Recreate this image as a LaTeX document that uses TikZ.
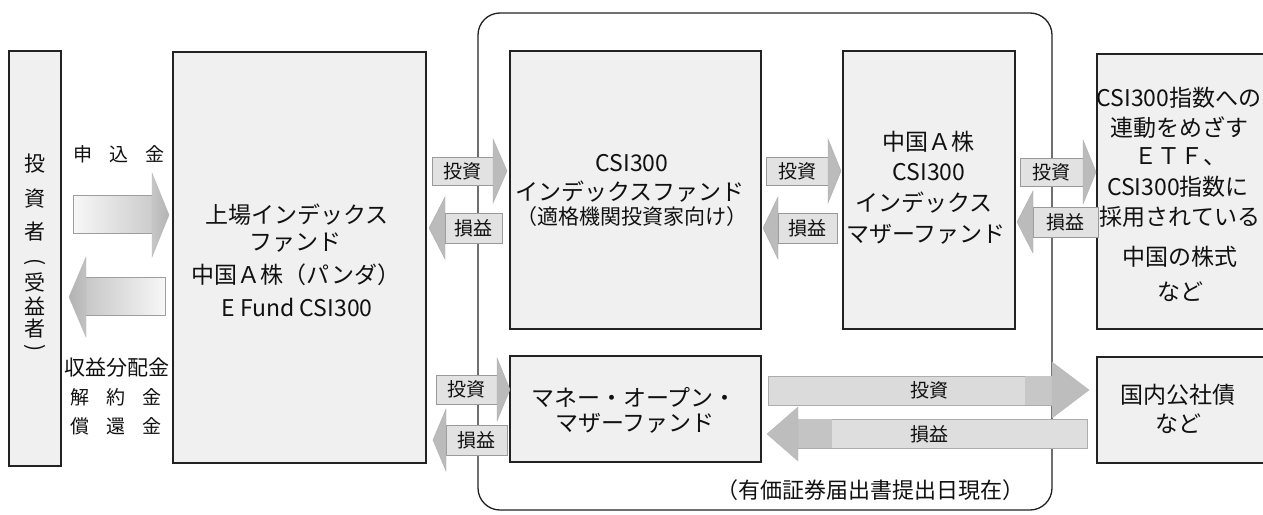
\documentclass[tikz,border=0pt]{standalone}
\usepackage{fontspec}
\setmainfont{Noto Sans CJK JP}
\definecolor{boxfill}{HTML}{F0F0F0}
\definecolor{boxline}{HTML}{222222}
\definecolor{txtc}{HTML}{111111}
\definecolor{arrbody}{HTML}{E2E2E2}
\definecolor{arrhead}{HTML}{BBBBBB}
\definecolor{arredge}{HTML}{9A9A9A}
\tikzset{
  box/.style={draw=boxline, fill=boxfill, line width=1.3pt, inner sep=0pt, outer sep=0pt},
  t/.style={inner sep=0pt, text=txtc, font=\fontsize{23}{26}\selectfont},
  tm/.style={inner sep=0pt, text=txtc, font=\fontsize{21}{24}\selectfont},
  ts/.style={inner sep=0pt, text=txtc, font=\fontsize{19}{22}\selectfont},
  abody/.style={fill=arrbody, draw=arredge, line width=0.8pt},
  ahead/.style={fill=arrhead, draw=arrhead!92!black, line width=0.4pt},
}
\newcommand\ArrR[7]{%
  \path[abody] (#1,#4) rectangle (#2,#5);
  \path[ahead] (#2,#6) -- (#3,{(#6+#7)/2}) -- (#2,#7) -- cycle;}
\newcommand\ArrL[7]{%
  \path[abody] (#2,#4) rectangle (#3,#5);
  \path[ahead] (#2,#6) -- (#1,{(#6+#7)/2}) -- (#2,#7) -- cycle;}
\begin{document}
\begin{tikzpicture}[x=1pt,y=-1pt]
\useasboundingbox (0,0) rectangle (1263,514);
\fill[white] (0,0) rectangle (1263,514);
\begin{scope}
\clip (0,0) rectangle (1263,514);

% container
\node[draw=boxline, line width=1.3pt, rounded corners=22pt, minimum width=574pt, minimum height=497pt, inner sep=0pt] (cont) at (765,261.5) {};

% boxes
\node[box, minimum width=52pt, minimum height=415pt] (inv) at (35,258.5) {};
\node[box, minimum width=253pt, minimum height=411pt] (fund) at (299.5,257.5) {};
\node[box, minimum width=251pt, minimum height=278pt] (csi) at (635.5,190) {};
\node[box, minimum width=172pt, minimum height=278pt] (mother) at (929,190) {};
\node[box, minimum width=178pt, minimum height=275pt] (etf) at (1186,191.5) {};
\node[box, minimum width=251pt, minimum height=106pt] (money) at (635.5,409) {};
\node[box, minimum width=178pt, minimum height=106pt] (bond) at (1186,410) {};

% investor vertical text
\node[tm] (v1) at (35,164) {投};
\node[tm] (v2) at (35,199) {資};
\node[tm] (v3) at (35,232) {者};
\node[tm, rotate=-90] (v4) at (35,262) {(};
\node[tm] (v5) at (35,282) {受};
\node[tm] (v6) at (35,306) {益};
\node[tm] (v7) at (35,329) {者};
\node[tm, rotate=-90] (v8) at (35,348) {)};

% left big arrows
\path[left color=black!3, right color=black!20, draw=black!38, line width=0.6pt] (73,195) rectangle (153,233);
\path[left color=black!22, right color=black!30, draw=black!28, line width=0.4pt] (152,173) -- (169,215) -- (152,257) -- cycle;
\path[left color=black!22, right color=black!3, draw=black!38, line width=0.6pt] (85,277) rectangle (165,315);
\path[left color=black!30, right color=black!24, draw=black!28, line width=0.4pt] (86,257) -- (69,297) -- (86,337) -- cycle;

\node[ts] (in) at (119,154) {申\hspace{17pt}込\hspace{17pt}金};
\node[tm] (out1) at (116.5,368) {収益分配金};
\node[ts] (out2) at (116,397) {解\hspace{17pt}約\hspace{17pt}金};
\node[ts] (out3) at (116,426) {償\hspace{17pt}還\hspace{17pt}金};

% main fund text
\node[t] (f1) at (297,215) {上場インデックス};
\node[t] (f2) at (295,243) {ファンド};
\node[t] (f3) at (296,275) {中国Ａ株（パンダ）};
\node[t] (f4) at (297,307) {E Fund CSI300};

% CSI index fund text
\node[t] (c1) at (632,163) {CSI300};
\node[t] (c2) at (630,192) {インデックスファンド};
\node[tm] (c3) at (632,217) {（適格機関投資家向け）};

% mother fund text
\node[t] (m1) at (928,142) {中国Ａ株};
\node[t] (m2) at (929,172) {CSI300};
\node[t] (m3) at (924,203) {インデックス};
\node[t] (m4) at (926,234) {マザーファンド};

% ETF box text
\node[t] (e1) at (1179,98) {CSI300指数への};
\node[t] (e2) at (1179,128) {連動をめざす};
\node[t] (e3) at (1180,157) {ＥＴＦ、};
\node[t] (e4) at (1178,187) {CSI300指数に};
\node[t] (e5) at (1180,217) {採用されている};
\node[t] (e6) at (1180,257) {中国の株式};
\node[t] (e7) at (1180,292) {など};

% money fund text
\node[t] (mo1) at (634,397) {マネー・オープン・};
\node[t] (mo2) at (635,423) {マザーファンド};

% bond text
\node[t] (b1) at (1178,395) {国内公社債};
\node[t] (b2) at (1178,424) {など};

% small arrows
\ArrR{432}{493}{507}{157}{185}{139}{203}
\ArrL{429}{445}{502}{213}{243}{197}{259}
\ArrR{766}{828}{841}{157}{185}{139}{203}
\ArrL{763}{778}{837}{213}{243}{197}{259}
\ArrR{1020}{1083}{1096}{158}{186}{140}{204}
\ArrL{1017}{1033}{1098}{207}{237}{191}{253}
\ArrR{436}{497}{510}{375}{404}{358}{421}
\ArrL{433}{446}{507}{425}{455}{409}{471}
\node[ts] (ia) at (462.5,171) {投資};
\node[ts] (pa) at (473.5,228) {損益};
\node[ts] (ib) at (797,171) {投資};
\node[ts] (pb) at (807.5,228) {損益};
\node[ts] (ic) at (1051.5,172) {投資};
\node[ts] (pc) at (1065,222) {損益};
\node[ts] (id) at (466.5,389.5) {投資};
\node[ts] (pd) at (476.5,440) {損益};

% long arrows
\path[fill=black!14, draw=black!32, line width=0.6pt] (768,376) rectangle (1052,405);
\fill[black!22] (1025,376.4) rectangle (1052,404.6);
\path[fill=black!26, draw=black!28, line width=0.4pt] (1052,362) -- (1089,390) -- (1052,418) -- cycle;
\path[fill=black!13, draw=black!32, line width=0.6pt] (798,419) rectangle (1087,448);
\fill[black!23] (798,419.4) rectangle (832,447.6);
\path[fill=black!26, draw=black!28, line width=0.4pt] (798,407) -- (767,434) -- (798,461) -- cycle;
\node[ts] (il) at (929,390) {投資};
\node[ts] (pl) at (929,434) {損益};

% note
\node[inner sep=0pt, text=txtc, font=\fontsize{22}{24}\selectfont] (note) at (870,490) {（有価証券届出書提出日現在）};
\end{scope}
\end{tikzpicture}
\end{document}
